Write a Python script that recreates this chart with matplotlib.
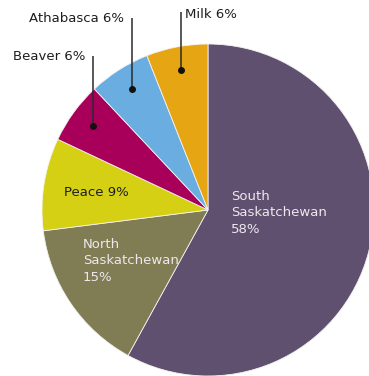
"""Share of provincial water allocation by river basin, drawn as a labelled pie."""

import numpy as np
import matplotlib.pyplot as plt

basins = ["South\nSaskatchewan", "North\nSaskatchewan", "Peace", "Beaver", "Athabasca", "Milk"]
shares = [58, 15, 9, 6, 6, 6]
colors = ["#605070", "#807d54", "#d5d014", "#a8005a", "#6aade0", "#e6a614"]

W, H = 369, 376
CX, CY, R = 208, 210, 166

fig = plt.figure(figsize=(W / 100, H / 100), dpi=100)
ax = fig.add_axes([0, 0, 1, 1])
ax.set_xlim(0, W)
ax.set_ylim(H, 0)
ax.axis("off")

# pie() in an inverted y axis runs mirrored, so counterclock=True gives clockwise on screen
wedges, _ = ax.pie(
    shares,
    colors=colors,
    startangle=-90,
    counterclock=True,
    center=(CX, CY),
    radius=R,
    frame=True,
    wedgeprops=dict(edgecolor="#f4f2f0", linewidth=0.6),
)
ax.set_xlim(0, W)
ax.set_ylim(H, 0)
ax.set_aspect("equal")
ax.axis("off")

font = "DejaVu Sans"
light = "#ece8ee"
dark = "#1e1e1e"

# labels set inside the larger slices
ax.text(231, 190, f"{basins[0]}\n{shares[0]}%", ha="left", va="top", fontsize=9.5,
        color=light, linespacing=1.35, family=font)
ax.text(83, 238, f"{basins[1]}\n{shares[1]}%", ha="left", va="top", fontsize=9.5,
        color=light, linespacing=1.35, family=font)
ax.text(64, 193, f"{basins[2]} {shares[2]}%", ha="left", va="center", fontsize=9.5,
        color=dark, family=font)

# callouts for the narrow slices: dot at mid-angle, vertical leader up to the label
cum = np.cumsum([0] + shares)
callouts = {
    3: dict(top=56, tx=85, ty=57, ha="right"),
    4: dict(top=18, tx=124, ty=18, ha="right"),
    5: dict(top=12, tx=185, ty=14, ha="left"),
}
for i, c in callouts.items():
    mid = 90 - 360 * (cum[i] + cum[i + 1]) / 2 / 100
    a = np.radians(mid)
    px = CX + 0.86 * R * np.cos(a)
    py = CY - 0.86 * R * np.sin(a)
    ax.plot([px, px], [py, c["top"]], color="#2a2a2a", lw=1.1, solid_capstyle="butt")
    ax.plot(px, py, "o", color="#111111", ms=4)
    ax.text(c["tx"], c["ty"], f"{basins[i]} {shares[i]}%", ha=c["ha"], va="center",
            fontsize=9.5, color=dark, family=font)

fig.savefig("out.png", dpi=100, facecolor="white")
